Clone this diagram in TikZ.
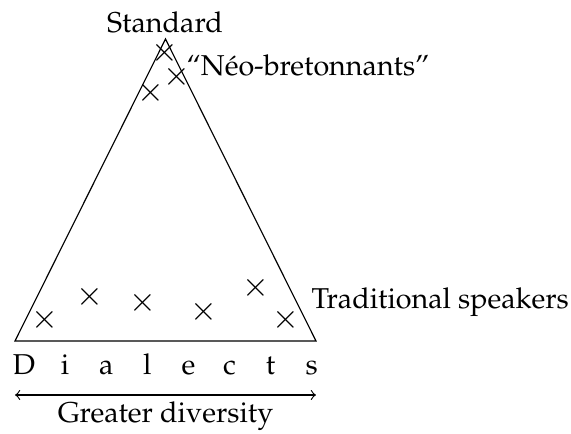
\documentclass[tikz,border=0pt]{standalone}
\usepackage[T1]{fontenc}
\usepackage{mathpazo}
\usetikzlibrary{positioning}

\begin{document}
\begin{tikzpicture}[
  x=0.3484pt, y=-0.3484pt,
  cross/.style={inner sep=0pt, scale=1.15},
  letter/.style={anchor=base, inner sep=0pt},
  lbl/.style={anchor=base west, inner sep=0pt}
]
  \useasboundingbox (0,0) rectangle (571,434);

  % Triangle
  \coordinate (bl) at (15,341);
  \coordinate (br) at (316,341);
  \coordinate (apex) at (165.5,39);
  \draw (bl) -- (br) -- (apex) -- cycle;

  \node[anchor=base, inner sep=0pt] (std) at (165,33) {Standard};
  \node[lbl] (neo) at (186,76) {``N\'eo-bretonnants''};
  \node[lbl] (trad) at (311,309) {Traditional speakers};

  % Speakers
  \foreach \x/\y [count=\i] in {165/53, 177/77, 151/93, 45/320, 90/297,
                                143/303, 204/312, 256/288, 286/320}
    \node[cross] (x\i) at (\x,\y) {$\times$};

  % Dialects
  \foreach \l [count=\i from 0] in {D,i,a,l,e,c,t,s}
    \node[letter] (d\i) at (24+\i*41.1,375) {\l};

  \coordinate (al) at (15,395);
  \coordinate (ar) at (316,395);
  \draw[<->] (al) -- (ar);
  \node[anchor=base, inner sep=0pt] (div) at (165.5,423) {Greater diversity};

\end{tikzpicture}
\end{document}
